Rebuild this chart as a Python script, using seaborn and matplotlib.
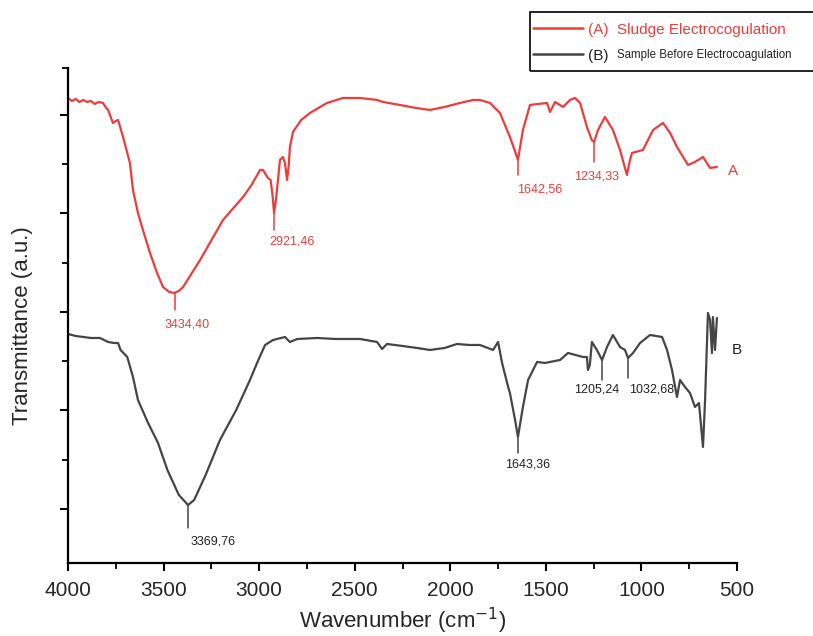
import numpy as np
import pandas as pd
import matplotlib
matplotlib.use("Agg")
import matplotlib.pyplot as plt
import seaborn as sns
from matplotlib.lines import Line2D
from matplotlib.patches import Rectangle

# ---------------- data ----------------
wn_A = [4000, 3980, 3960, 3940, 3920, 3900, 3880, 3860, 3840, 3817, 3800, 3790, 3765, 3750, 3738,
        3712, 3676, 3660, 3634, 3608, 3571, 3534, 3503, 3470, 3445, 3420, 3398, 3309, 3189, 3084,
        3040, 2995, 2980, 2954, 2940, 2930, 2922, 2912, 2891, 2876, 2865, 2854, 2845, 2839, 2823,
        2780, 2734, 2645, 2561, 2472, 2383, 2352, 2263, 2180, 2106, 2030, 1949, 1880, 1845, 1792,
        1740, 1688, 1660, 1646, 1620, 1583, 1540, 1494, 1478, 1452, 1410, 1374, 1347, 1321, 1285,
        1260, 1248, 1227, 1191, 1149, 1112, 1076, 1060, 1049, 992, 939, 887, 850, 814, 756,
        720, 678, 641, 605]
px_A = [98, 101, 99, 102, 100, 102, 101, 104, 102, 103, 108, 110, 123, 121, 120,
        137, 163, 190, 213, 230, 253, 273, 287, 292, 293, 291, 287, 260, 220, 197,
        185, 170, 170, 178, 180, 195, 213, 200, 160, 157, 163, 180, 165, 147, 132,
        120, 113, 103, 98, 98, 100, 102, 105, 108, 110, 107, 103, 100, 100, 103,
        113, 137, 152, 160, 130, 105, 104, 103, 112, 102, 107, 100, 98, 103, 127,
        140, 142, 130, 117, 130, 150, 175, 160, 153, 150, 130, 123, 133, 147, 165,
        162, 157, 168, 167]

wn_B = [4000, 3960, 3920, 3880, 3833, 3790, 3760, 3738, 3725, 3690, 3660, 3634, 3581, 3529, 3480,
        3420, 3372, 3340, 3280, 3205, 3120, 3048, 3011, 2969, 2927, 2865, 2839, 2800, 2697, 2600,
        2472, 2383, 2357, 2331, 2250, 2174, 2106, 2030, 1965, 1900, 1845, 1776, 1750, 1729, 1700,
        1688, 1661, 1646, 1620, 1593, 1546, 1504, 1426, 1384, 1306, 1285, 1280, 1270, 1259, 1233,
        1206, 1180, 1149, 1112, 1086, 1070, 1044, 1007, 955, 892, 866, 840, 814, 798, 772,
        746, 720, 699, 678, 667, 652, 641, 631, 626, 615, 605]
px_B = [334, 336, 337, 338, 338, 342, 343, 343, 350, 357, 377, 400, 423, 443, 470,
        495, 505, 500, 475, 440, 410, 380, 363, 345, 340, 337, 342, 339, 338, 339,
        339, 342, 349, 344, 346, 348, 350, 348, 344, 345, 345, 350, 342, 363, 385,
        393, 420, 437, 407, 380, 362, 363, 360, 353, 357, 357, 370, 365, 342, 350,
        360, 347, 335, 347, 350, 358, 353, 343, 335, 337, 350, 370, 397, 380, 387,
        393, 407, 403, 447, 400, 313, 320, 353, 317, 350, 318]

peak_labels_A = ["3434,40", "2921,46", "1642,56", "1234,33"]
peak_wn_A = [3440, 2922, 1645, 1248]
peak_labels_B = ["3369,76", "1643,36", "1205,24", "1032,68"]
peak_wn_B = [3372, 1645, 1206, 1070]

legend_A = "(A)  Sludge Electrocogulation"
legend_B_tag = "(B)"
legend_B = "Sample Before Electrocoagulation"

# pixel readings -> transmittance units (arbitrary)
def to_T(p):
    return [(563 - v) / 4.925 for v in p]

df = pd.concat([
    pd.DataFrame({"wn": wn_A, "T": to_T(px_A), "s": "A"}),
    pd.DataFrame({"wn": wn_B, "T": to_T(px_B), "s": "B"}),
])

RED = "#ef3b3b"
GRAY = "#454545"

sns.set_style("ticks")
plt.rcParams["font.family"] = ["Liberation Sans", "DejaVu Sans"]

fig = plt.figure(figsize=(8.13, 6.36), dpi=100)
ax = fig.add_axes([68 / 813, 1 - 563 / 636, (737 - 68) / 813, (563 - 68) / 636])

sns.lineplot(data=df, x="wn", y="T", hue="s", palette={"A": RED, "B": GRAY},
             sort=False, estimator=None, lw=1.6, ax=ax, legend=False)

ax.set_xlim(4000, 500)
ax.set_ylim(0, 100.5)
ax.set_xticks(np.arange(4000, 499, -500))
ax.set_xticks(np.arange(3750, 500, -500), minor=True)
ax.set_yticks([11, 31, 51, 71, 91])
ax.set_yticks([21, 41, 61, 81, 100.5], minor=True)
ax.set_yticklabels([])
for s in ["top", "right"]:
    ax.spines[s].set_visible(False)
for s in ["left", "bottom"]:
    ax.spines[s].set_linewidth(1.6)
    ax.spines[s].set_color("black")
ax.tick_params(which="major", direction="out", length=6, width=1.5, color="black")
ax.tick_params(which="minor", direction="out", length=4, width=1.3, color="black")
ax.tick_params(axis="x", labelsize=15, pad=7)

ax.set_xlabel("Wavenumber (cm$^{-1}$)", fontsize=16)
ax.xaxis.set_label_coords(0.5, -0.086)
ax.set_ylabel("Transmittance (a.u.)", fontsize=16)
ax.yaxis.set_label_coords(-0.052, 0.48)

def pix(y):
    return (563 - y) / 4.925

# peak markers and labels
mk_A = [(293, 310), (213, 230), (160, 175), (142, 162)]
lab_A = [(187, 325), (292, 242), (540, 190), (597, 177)]
mk_B = [(505, 528), (437, 453), (360, 380), (358, 378)]
lab_B = [(213, 542), (528, 465), (597, 390), (652, 390)]

def xw(px):
    return 4000 - (px - 68) / 0.19114

for wn, lab, (y0, y1), (lx, ly) in zip(peak_wn_A, peak_labels_A, mk_A, lab_A):
    ax.plot([wn, wn], [pix(y0), pix(y1)], color=RED, lw=1.1)
    ax.text(xw(lx), pix(ly), lab, color=RED, fontsize=9, ha="center", va="center")
for wn, lab, (y0, y1), (lx, ly) in zip(peak_wn_B, peak_labels_B, mk_B, lab_B):
    ax.plot([wn, wn], [pix(y0), pix(y1)], color=GRAY, lw=1.1)
    ax.text(xw(lx), pix(ly), lab, color="#222222", fontsize=9, ha="center", va="center")

ax.text(xw(733), pix(171), "A", color=RED, fontsize=11, ha="center", va="center", clip_on=False)
ax.text(xw(737), pix(350), "B", color="#222222", fontsize=11, ha="center", va="center", clip_on=False)

# legend box (manual)
fig.add_artist(Rectangle((530 / 813, 1 - 71 / 636), (813 - 530) / 813 + 0.01, 59 / 636,
                         transform=fig.transFigure, fill=False, edgecolor="black", lw=1.2))
fig.add_artist(Line2D([533 / 813, 583 / 813], [1 - 28 / 636] * 2, color=RED, lw=1.8,
                      transform=fig.transFigure))
fig.add_artist(Line2D([533 / 813, 583 / 813], [1 - 54 / 636] * 2, color=GRAY, lw=1.8,
                      transform=fig.transFigure))
fig.text(588 / 813, 1 - 30 / 636, legend_A, color=RED, fontsize=11, va="center", ha="left")
fig.text(588 / 813, 1 - 56 / 636, legend_B_tag, color="#222222", fontsize=11, va="center", ha="left")
fig.text(617 / 813, 1 - 55 / 636, legend_B, color="#222222", fontsize=8.3, va="center", ha="left")

fig.savefig("out.png", dpi=100)
